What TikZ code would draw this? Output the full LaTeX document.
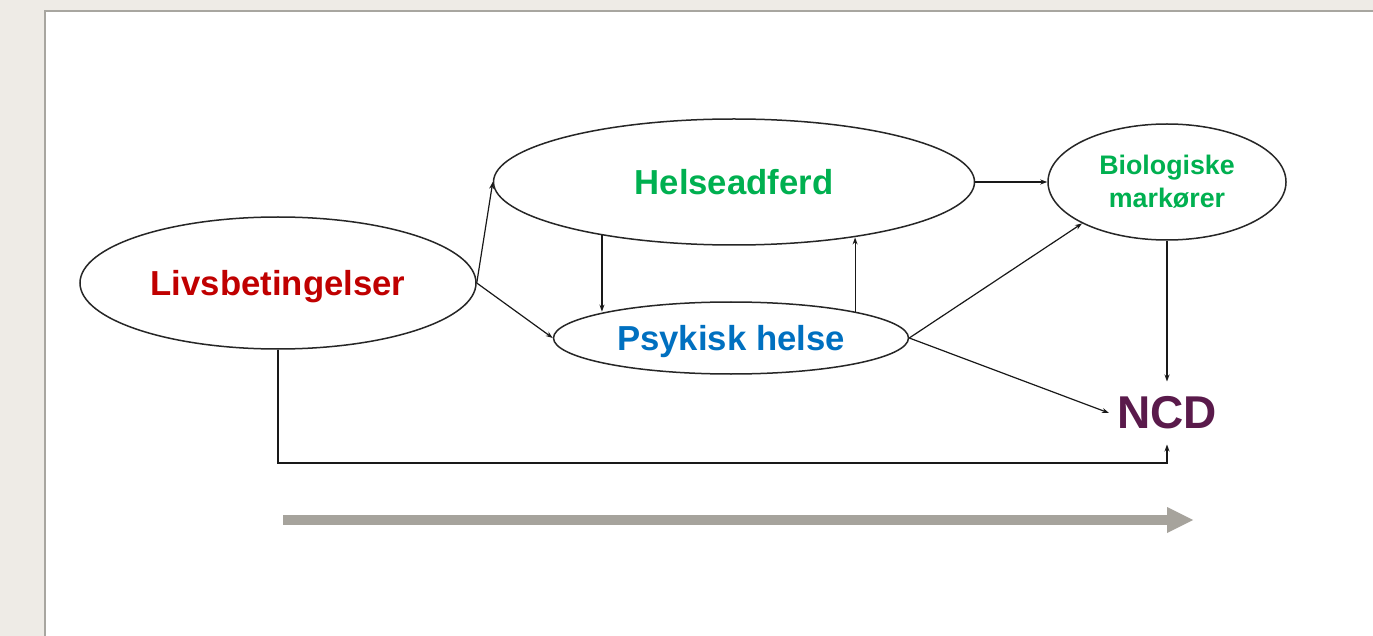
\documentclass[tikz,border=0pt]{standalone}
\usepackage{fontspec}
\setmainfont{Liberation Sans}
\usetikzlibrary{shapes.geometric,arrows.meta,calc}
\definecolor{bgbeige}{HTML}{EEEBE6}
\definecolor{panelgray}{HTML}{A8A6A0}
\definecolor{livred}{HTML}{C00000}
\definecolor{helgreen}{HTML}{00B050}
\definecolor{psyblue}{HTML}{0070C0}
\definecolor{ncdpurple}{HTML}{5A1A4B}
\definecolor{timegray}{HTML}{A6A39C}
\begin{document}
\begin{tikzpicture}[x=1pt,y=-1pt,
  ell/.style={ellipse,draw=black!85,line width=1.5pt,inner sep=0pt,font=\bfseries\fontsize{34.7}{40}\selectfont,align=center},
  arr/.style={draw=black!90,line width=1.2pt,-{Stealth[length=7pt,width=5pt]}}]
\useasboundingbox (0,0) rectangle (1373,636);
\fill[bgbeige] (0,0) rectangle (1373,636);
\filldraw[fill=white,draw=panelgray,line width=2pt] (45,11) rectangle (1400,660);
% nodes
\node[ell,minimum width=396pt,minimum height=132pt,text=livred,text height=31pt,text depth=6pt] (liv) at (278,283) {Livsbetingelser};
\node[ell,minimum width=481pt,minimum height=126pt,text=helgreen] (hel) at (734,182) {Helseadferd};
\node[ell,minimum width=355pt,minimum height=72pt,text=psyblue,text height=31pt,text depth=6pt] (psy) at (731,338) {Psykisk helse};
\node[ell,minimum width=238pt,minimum height=116pt,text=helgreen,font=\bfseries\fontsize{26.8}{33}\selectfont] (bio) at (1167,182) {Biologiske\\markører};
\node[inner xsep=8pt,inner ysep=15pt,text=ncdpurple,font=\bfseries\fontsize{46}{50}\selectfont] (ncd) at (1167,413) {NCD};
\coordinate (low) at (0,463);
% connectors
\draw[arr] (liv.east) -- (hel.west);
\draw[arr] (liv.east) -- (psy.west);
\draw[arr] (hel.202.8) -- (hel.202.8 |- psy.168.3);
\draw[arr] (psy.12.1) -- (psy.12.1 |- hel.335.3);
\draw[arr] (hel.east) -- (bio.west);
\draw[arr] (psy.east) -- (bio.206.6);
\draw[arr] (psy.east) -- (ncd.west);
\draw[arr] (bio.south) -- (ncd.north);
\draw[arr] (liv.south) -- (liv.south |- low) -| (ncd.south);
% time arrow
\coordinate (t0) at (283,520);
\coordinate (t1) at (1167,520);
\coordinate (t2) at (1193,520);
\draw[timegray,line width=10pt] (t0) -- (t1);
\fill[timegray] ($(t1)+(0,-13)$) -- (t2) -- ($(t1)+(0,13)$) -- cycle;
\end{tikzpicture}
\end{document}
